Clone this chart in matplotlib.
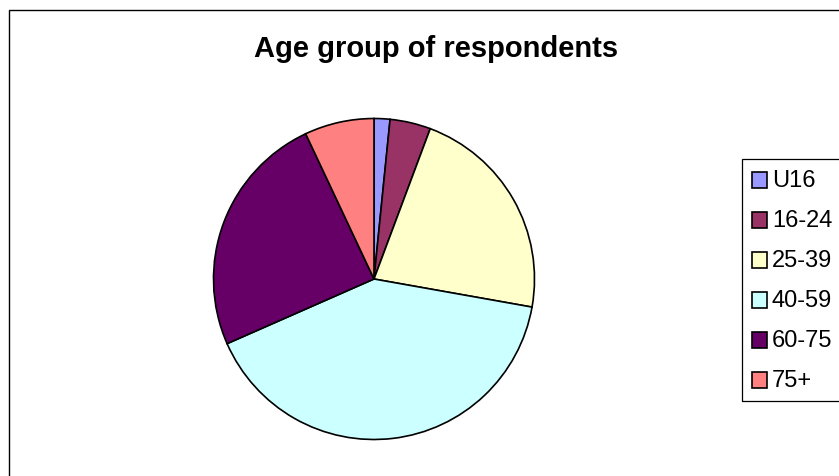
import matplotlib
matplotlib.use("Agg")
import matplotlib.pyplot as plt
from matplotlib.patches import Rectangle

categories = ["U16", "16-24", "25-39", "40-59", "60-75", "75+"]
values = [1.6, 4.1, 22.1, 40.6, 24.6, 7.0]
colors = ["#9999FF", "#993366", "#FFFFCC", "#CCFFFF", "#660066", "#FF8080"]
title = "Age group of respondents"

W, H = 839, 477
fig = plt.figure(figsize=(W / 100, H / 100), dpi=100)
plt.rcParams['font.family'] = ['Liberation Sans', 'DejaVu Sans']

def fx(px):
    return px / W

def fy(py):
    return 1 - py / H

# outer chart frame
fig.patches.append(Rectangle((fx(8.5), fy(480)), fx(840) - fx(8.5), fy(11) - fy(480),
                             transform=fig.transFigure, fill=False,
                             edgecolor="#000000", linewidth=1.0))

# pie
cx, cy, r = 374, 280, 160.5
ax = fig.add_axes([fx(cx - r), fy(cy + r), 2 * r / W, 2 * r / H])
ax.pie(values, colors=colors, startangle=90, counterclock=False,
       wedgeprops=dict(edgecolor="black", linewidth=1.2))
ax.set_xlim(-1, 1)
ax.set_ylim(-1, 1)
ax.set_aspect('auto')
ax.axis('off')

fig.text(fx(436.5), fy(56.7), title, ha='center', va='baseline',
         fontsize=21, fontweight='bold')

# legend
fig.patches.append(Rectangle((fx(741.5), fy(401.5)), fx(845) - fx(741.5), fy(160) - fy(401.5),
                             transform=fig.transFigure, fill=False,
                             edgecolor="#000000", linewidth=0.9))
y0, dy = 180.7, 40.0
for i, (lab, col) in enumerate(zip(categories, colors)):
    yc = y0 + i * dy
    fig.patches.append(Rectangle((fx(751.7), fy(yc + 8)), 15 / W, 16 / H,
                                 transform=fig.transFigure, facecolor=col,
                                 edgecolor="black", linewidth=1.2))
    fig.text(fx(772), fy(yc + 6), lab, ha='left', va='baseline', fontsize=17)

fig.savefig("out.png", dpi=100)
